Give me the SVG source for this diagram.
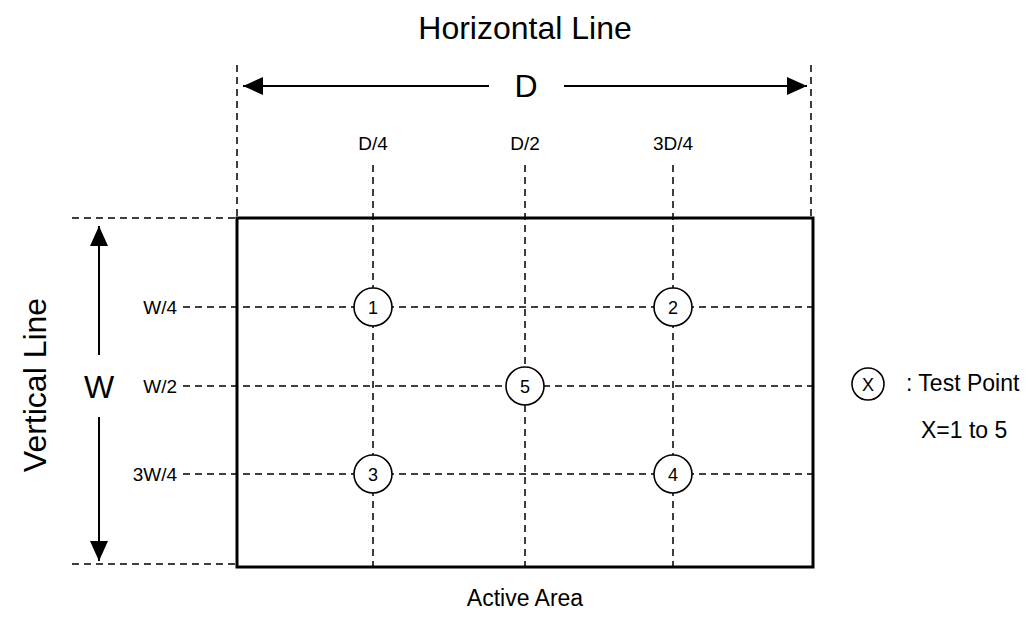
<svg xmlns="http://www.w3.org/2000/svg" width="1036" height="621" viewBox="0 0 1036 621">
<defs>
<style>
text{font-family:"Liberation Sans",Arial,sans-serif;fill:#000}
.big{font-size:32px}
.lbl{font-size:19px}
.num{font-size:18px}
.leg{font-size:23px}
.dash{stroke:#000;stroke-width:1.5;stroke-dasharray:7 5;fill:none}
.solid{stroke:#000;stroke-width:2;fill:none}
.pt{fill:#fff;stroke:#000;stroke-width:1.6}
</style>
<marker id="ah" viewBox="0 0 20 18" refX="20" refY="9" markerWidth="20" markerHeight="18" markerUnits="userSpaceOnUse" orient="auto">
<path d="M0,0 L20,9 L0,18 Z" fill="#000"/>
</marker>
</defs>
<rect width="1036" height="621" fill="#fff"/>
<g id="connectors">
<line class="dash" x1="237" y1="65" x2="237" y2="217"/>
<line class="dash" x1="811" y1="65" x2="811" y2="217"/>
<line class="dash" x1="72" y1="218" x2="237" y2="218"/>
<line class="dash" x1="72" y1="564" x2="237" y2="564"/>
<line class="dash" x1="373" y1="165" x2="373" y2="567"/>
<line class="dash" x1="525" y1="165" x2="525" y2="567"/>
<line class="dash" x1="673" y1="165" x2="673" y2="567"/>
<line class="dash" x1="183" y1="307" x2="813" y2="307"/>
<line class="dash" x1="183" y1="386" x2="813" y2="386"/>
<line class="dash" x1="183" y1="474" x2="813" y2="474"/>
<line class="solid" x1="489" y1="86" x2="243" y2="86" marker-end="url(#ah)"/>
<line class="solid" x1="564" y1="86" x2="807" y2="86" marker-end="url(#ah)"/>
<line class="solid" x1="99" y1="355" x2="99" y2="226" marker-end="url(#ah)"/>
<line class="solid" x1="99" y1="417" x2="99" y2="561" marker-end="url(#ah)"/>
</g>
<g id="active-area">
<rect x="237" y="218" width="576" height="349" fill="none" stroke="#000" stroke-width="3"/>
<text x="525" y="606" class="leg" text-anchor="middle">Active Area</text>
</g>
<g id="titles">
<text x="525" y="39" class="big" text-anchor="middle">Horizontal Line</text>
<text x="526" y="97" class="big" text-anchor="middle">D</text>
<text x="99" y="398" class="big" text-anchor="middle">W</text>
<text transform="translate(46,385) rotate(-90)" class="big" text-anchor="middle">Vertical Line</text>
</g>
<g id="axis-labels">
<text x="373" y="150" class="lbl" text-anchor="middle">D/4</text>
<text x="525" y="150" class="lbl" text-anchor="middle">D/2</text>
<text x="673" y="150" class="lbl" text-anchor="middle">3D/4</text>
<text x="177" y="314" class="lbl" text-anchor="end">W/4</text>
<text x="177" y="393" class="lbl" text-anchor="end">W/2</text>
<text x="177" y="481" class="lbl" text-anchor="end">3W/4</text>
</g>
<g id="p1"><circle class="pt" cx="373" cy="307" r="19"/><text x="373" y="313.5" class="num" text-anchor="middle">1</text></g>
<g id="p2"><circle class="pt" cx="673" cy="307" r="19"/><text x="673" y="313.5" class="num" text-anchor="middle">2</text></g>
<g id="p5"><circle class="pt" cx="525" cy="386" r="19"/><text x="525" y="392.5" class="num" text-anchor="middle">5</text></g>
<g id="p3"><circle class="pt" cx="373" cy="474" r="19"/><text x="373" y="480.5" class="num" text-anchor="middle">3</text></g>
<g id="p4"><circle class="pt" cx="673" cy="474" r="19"/><text x="673" y="480.5" class="num" text-anchor="middle">4</text></g>
<g id="legend">
<circle class="pt" cx="868" cy="384" r="16"/>
<text x="868" y="391" class="num" text-anchor="middle">X</text>
<text x="906" y="391" class="leg">: Test Point</text>
<text x="921" y="438" class="leg">X=1 to 5</text>
</g>
</svg>
